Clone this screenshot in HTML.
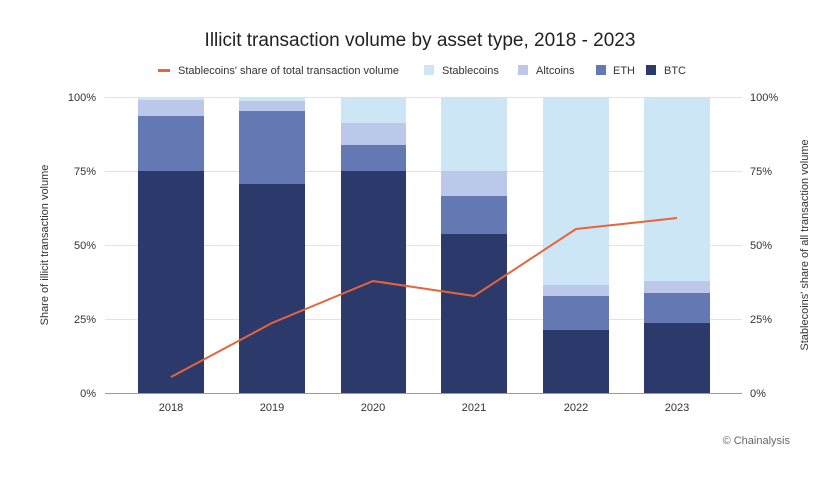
<!DOCTYPE html>
<html><head><meta charset="utf-8"><style>
body{margin:0;background:#fff;}
text{font-family:"Liberation Sans",sans-serif;fill:#333;}
</style></head><body>
<svg width="839" height="479" viewBox="0 0 839 479" xmlns="http://www.w3.org/2000/svg">
<text x="420" y="46" text-anchor="middle" font-size="19" fill="#222" style="fill:#222">Illicit transaction volume by asset type, 2018 - 2023</text>
<!-- legend -->
<rect x="158" y="69" width="12" height="3" fill="#e8643a"/>
<text x="178" y="74" font-size="11">Stablecoins' share of total transaction volume</text>
<rect x="424" y="65" width="10" height="10" fill="#cde6f5"/>
<text x="442" y="74" font-size="11">Stablecoins</text>
<rect x="518" y="65" width="10" height="10" fill="#bcc8ea"/>
<text x="536" y="74" font-size="11">Altcoins</text>
<rect x="596" y="65" width="10" height="10" fill="#6478b4"/>
<text x="613" y="74" font-size="11">ETH</text>
<rect x="646" y="65" width="10" height="10" fill="#2c3a6b"/>
<text x="664" y="74" font-size="11">BTC</text>
<!-- grid -->
<g stroke="#e2e2e2" stroke-width="1">
<line x1="105" y1="97.5" x2="742" y2="97.5"/>
<line x1="105" y1="171.5" x2="742" y2="171.5"/>
<line x1="105" y1="245.5" x2="742" y2="245.5"/>
<line x1="105" y1="319.5" x2="742" y2="319.5"/>
</g>
<!-- bars -->
<g>
<rect x="138" y="97" width="66" height="3" fill="#cde6f5"/>
<rect x="138" y="100" width="66" height="16" fill="#bcc8ea"/>
<rect x="138" y="116" width="66" height="55" fill="#6478b4"/>
<rect x="138" y="171" width="66" height="222" fill="#2c3a6b"/>

<rect x="239" y="97" width="66" height="4" fill="#cde6f5"/>
<rect x="239" y="101" width="66" height="10" fill="#bcc8ea"/>
<rect x="239" y="111" width="66" height="73" fill="#6478b4"/>
<rect x="239" y="184" width="66" height="209" fill="#2c3a6b"/>

<rect x="341" y="97" width="65" height="26" fill="#cde6f5"/>
<rect x="341" y="123" width="65" height="22" fill="#bcc8ea"/>
<rect x="341" y="145" width="65" height="26" fill="#6478b4"/>
<rect x="341" y="171" width="65" height="222" fill="#2c3a6b"/>

<rect x="441" y="97" width="66" height="74" fill="#cde6f5"/>
<rect x="441" y="171" width="66" height="25" fill="#bcc8ea"/>
<rect x="441" y="196" width="66" height="38" fill="#6478b4"/>
<rect x="441" y="234" width="66" height="159" fill="#2c3a6b"/>

<rect x="543" y="97" width="66" height="188" fill="#cde6f5"/>
<rect x="543" y="285" width="66" height="11" fill="#bcc8ea"/>
<rect x="543" y="296" width="66" height="34" fill="#6478b4"/>
<rect x="543" y="330" width="66" height="63" fill="#2c3a6b"/>

<rect x="644" y="97" width="66" height="184" fill="#cde6f5"/>
<rect x="644" y="281" width="66" height="12" fill="#bcc8ea"/>
<rect x="644" y="293" width="66" height="30" fill="#6478b4"/>
<rect x="644" y="323" width="66" height="70" fill="#2c3a6b"/>
</g>
<line x1="105" y1="393.5" x2="742" y2="393.5" stroke="#999" stroke-width="1"/>
<polyline points="171,377 272,323 373,281 474,296 576,229 677,218" fill="none" stroke="#e8643a" stroke-width="2"/>
<!-- left labels -->
<g font-size="11" text-anchor="end">
<text x="96" y="101">100%</text><text x="96" y="175">75%</text><text x="96" y="249">50%</text><text x="96" y="323">25%</text><text x="96" y="397">0%</text>
</g>
<g font-size="11">
<text x="750" y="101">100%</text><text x="750" y="175">75%</text><text x="750" y="249">50%</text><text x="750" y="323">25%</text><text x="750" y="397">0%</text>
</g>
<g font-size="11" text-anchor="middle">
<text x="171" y="411">2018</text><text x="272" y="411">2019</text><text x="373" y="411">2020</text><text x="474" y="411">2021</text><text x="576" y="411">2022</text><text x="677" y="411">2023</text>
</g>
<text transform="translate(48,245) rotate(-90)" text-anchor="middle" font-size="11">Share of illicit transaction volume</text>
<text transform="translate(808,245) rotate(-90)" text-anchor="middle" font-size="11">Stablecoins' share of all transaction volume</text>
<text x="790" y="444" text-anchor="end" font-size="11" style="fill:#666">© Chainalysis</text>
</svg>
</body></html>
